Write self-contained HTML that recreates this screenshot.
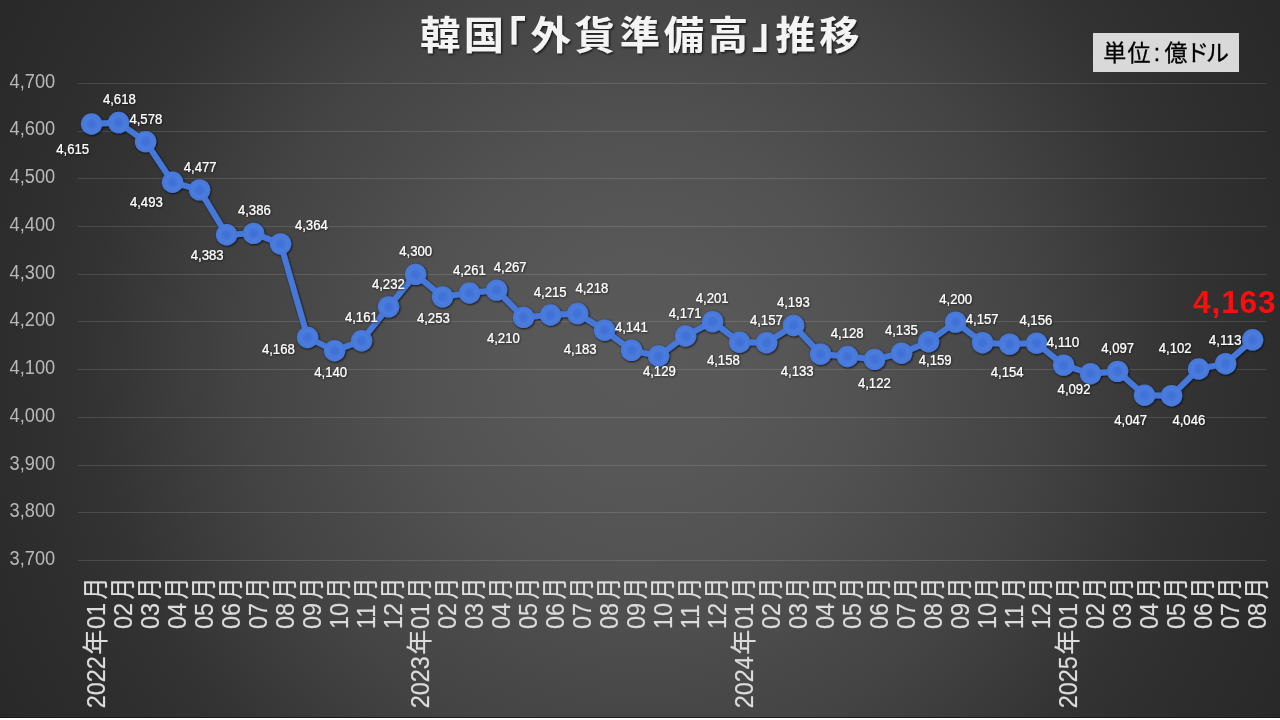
<!DOCTYPE html>
<html lang="ja"><head><meta charset="utf-8"><title>韓国「外貨準備高」推移</title>
<style>html,body{margin:0;padding:0;background:#fff;overflow:hidden}svg{display:block}text{font-family:"Liberation Sans","Noto Sans CJK JP",sans-serif}.dl{font-size:14.2px;fill:#fff;stroke:#fff;stroke-width:0.15px}.ya{font-size:20px;fill:#b8b8b8}.xa{font-size:26px;fill:#dcdcdc;stroke:#dcdcdc;stroke-width:0.2px}.ttl{font-family:"Liberation Sans","Noto Sans CJK JP",sans-serif;font-weight:700;font-size:40.4px;fill:#f4f4f4}.unit{font-family:"Liberation Sans","Noto Sans CJK JP",sans-serif;font-size:23px;fill:#000;stroke:#000;stroke-width:0.3px}.last{font-weight:700;font-size:31.5px;fill:#ff0d0d}</style></head><body>
<svg width="1280" height="720" viewBox="0 0 1280 720">
<defs>
<radialGradient id="bg" gradientUnits="userSpaceOnUse" cx="640" cy="360" r="740"><stop offset="0" stop-color="#595959"/><stop offset="0.135" stop-color="#585858"/><stop offset="0.30" stop-color="#525252"/><stop offset="0.46" stop-color="#484848"/><stop offset="0.532" stop-color="#444444"/><stop offset="0.608" stop-color="#3e3e3e"/><stop offset="0.738" stop-color="#333333"/><stop offset="0.838" stop-color="#2e2e2e"/><stop offset="1" stop-color="#282828"/></radialGradient>
<radialGradient id="mk" cx="0.5" cy="0.5" r="0.5"><stop offset="0" stop-color="#3f70d6"/><stop offset="0.35" stop-color="#4273d8"/><stop offset="0.6" stop-color="#4b7cdc"/><stop offset="1" stop-color="#4678d9"/></radialGradient>
<filter id="sh" x="-5%" y="-20%" width="110%" height="140%"><feDropShadow dx="0.7" dy="0.8" stdDeviation="1" flood-color="#00040f" flood-opacity="0.9"/></filter>
<filter id="ts" x="-20%" y="-40%" width="140%" height="180%"><feDropShadow dx="0.7" dy="0.7" stdDeviation="0.9" flood-color="#000" flood-opacity="0.65"/></filter>
<filter id="tt" x="-5%" y="-20%" width="110%" height="140%"><feDropShadow dx="1.2" dy="1.4" stdDeviation="1.1" flood-color="#000" flood-opacity="0.7"/></filter>
</defs>
<rect x="0" y="0" width="1280" height="718" fill="url(#bg)"/>
<rect x="0" y="717" width="1280" height="1" fill="#1b1b1b"/>
<rect x="0" y="718" width="1280" height="2" fill="#fff"/>
<g stroke="#fff" stroke-opacity="0.125" stroke-width="1">
<line x1="78.1" y1="83.50" x2="1266.1" y2="83.50"/>
<line x1="78.1" y1="131.50" x2="1266.1" y2="131.50"/>
<line x1="78.1" y1="178.50" x2="1266.1" y2="178.50"/>
<line x1="78.1" y1="226.50" x2="1266.1" y2="226.50"/>
<line x1="78.1" y1="274.50" x2="1266.1" y2="274.50"/>
<line x1="78.1" y1="321.50" x2="1266.1" y2="321.50"/>
<line x1="78.1" y1="369.50" x2="1266.1" y2="369.50"/>
<line x1="78.1" y1="417.50" x2="1266.1" y2="417.50"/>
<line x1="78.1" y1="465.50" x2="1266.1" y2="465.50"/>
<line x1="78.1" y1="512.50" x2="1266.1" y2="512.50"/>
<line x1="78.1" y1="560.50" x2="1266.1" y2="560.50"/>
</g>
<g class="ya" opacity="0.999">
<text x="9.6" y="87.70" textLength="45.6" lengthAdjust="spacingAndGlyphs">4,700</text>
<text x="9.6" y="135.45" textLength="45.6" lengthAdjust="spacingAndGlyphs">4,600</text>
<text x="9.6" y="183.20" textLength="45.6" lengthAdjust="spacingAndGlyphs">4,500</text>
<text x="9.6" y="230.95" textLength="45.6" lengthAdjust="spacingAndGlyphs">4,400</text>
<text x="9.6" y="278.70" textLength="45.6" lengthAdjust="spacingAndGlyphs">4,300</text>
<text x="9.6" y="326.45" textLength="45.6" lengthAdjust="spacingAndGlyphs">4,200</text>
<text x="9.6" y="374.20" textLength="45.6" lengthAdjust="spacingAndGlyphs">4,100</text>
<text x="9.6" y="421.95" textLength="45.6" lengthAdjust="spacingAndGlyphs">4,000</text>
<text x="9.6" y="469.70" textLength="45.6" lengthAdjust="spacingAndGlyphs">3,900</text>
<text x="9.6" y="517.45" textLength="45.6" lengthAdjust="spacingAndGlyphs">3,800</text>
<text x="9.6" y="565.20" textLength="45.6" lengthAdjust="spacingAndGlyphs">3,700</text>
</g>
<g class="xa" opacity="0.999">
<text transform="translate(105.40,708.2) rotate(-90) scale(0.9,1)">2022</text>
<text transform="translate(105.40,654.7) rotate(-90) scale(0.96,1)">年</text>
<text transform="translate(105.40,629) rotate(-90) scale(0.9,1)">01</text>
<text transform="translate(105.40,599.45) rotate(-90) scale(0.84,1)">月</text>
<text transform="translate(132.40,629) rotate(-90) scale(0.9,1)">02</text>
<text transform="translate(132.40,599.45) rotate(-90) scale(0.84,1)">月</text>
<text transform="translate(159.40,629) rotate(-90) scale(0.9,1)">03</text>
<text transform="translate(159.40,599.45) rotate(-90) scale(0.84,1)">月</text>
<text transform="translate(186.40,629) rotate(-90) scale(0.9,1)">04</text>
<text transform="translate(186.40,599.45) rotate(-90) scale(0.84,1)">月</text>
<text transform="translate(213.40,629) rotate(-90) scale(0.9,1)">05</text>
<text transform="translate(213.40,599.45) rotate(-90) scale(0.84,1)">月</text>
<text transform="translate(240.40,629) rotate(-90) scale(0.9,1)">06</text>
<text transform="translate(240.40,599.45) rotate(-90) scale(0.84,1)">月</text>
<text transform="translate(267.40,629) rotate(-90) scale(0.9,1)">07</text>
<text transform="translate(267.40,599.45) rotate(-90) scale(0.84,1)">月</text>
<text transform="translate(294.40,629) rotate(-90) scale(0.9,1)">08</text>
<text transform="translate(294.40,599.45) rotate(-90) scale(0.84,1)">月</text>
<text transform="translate(321.40,629) rotate(-90) scale(0.9,1)">09</text>
<text transform="translate(321.40,599.45) rotate(-90) scale(0.84,1)">月</text>
<text transform="translate(348.40,629) rotate(-90) scale(0.9,1)">10</text>
<text transform="translate(348.40,599.45) rotate(-90) scale(0.84,1)">月</text>
<text transform="translate(375.40,629) rotate(-90) scale(0.9,1)">11</text>
<text transform="translate(375.40,599.45) rotate(-90) scale(0.84,1)">月</text>
<text transform="translate(402.40,629) rotate(-90) scale(0.9,1)">12</text>
<text transform="translate(402.40,599.45) rotate(-90) scale(0.84,1)">月</text>
<text transform="translate(429.40,708.2) rotate(-90) scale(0.9,1)">2023</text>
<text transform="translate(429.40,654.7) rotate(-90) scale(0.96,1)">年</text>
<text transform="translate(429.40,629) rotate(-90) scale(0.9,1)">01</text>
<text transform="translate(429.40,599.45) rotate(-90) scale(0.84,1)">月</text>
<text transform="translate(456.40,629) rotate(-90) scale(0.9,1)">02</text>
<text transform="translate(456.40,599.45) rotate(-90) scale(0.84,1)">月</text>
<text transform="translate(483.40,629) rotate(-90) scale(0.9,1)">03</text>
<text transform="translate(483.40,599.45) rotate(-90) scale(0.84,1)">月</text>
<text transform="translate(510.40,629) rotate(-90) scale(0.9,1)">04</text>
<text transform="translate(510.40,599.45) rotate(-90) scale(0.84,1)">月</text>
<text transform="translate(537.40,629) rotate(-90) scale(0.9,1)">05</text>
<text transform="translate(537.40,599.45) rotate(-90) scale(0.84,1)">月</text>
<text transform="translate(564.40,629) rotate(-90) scale(0.9,1)">06</text>
<text transform="translate(564.40,599.45) rotate(-90) scale(0.84,1)">月</text>
<text transform="translate(591.40,629) rotate(-90) scale(0.9,1)">07</text>
<text transform="translate(591.40,599.45) rotate(-90) scale(0.84,1)">月</text>
<text transform="translate(618.40,629) rotate(-90) scale(0.9,1)">08</text>
<text transform="translate(618.40,599.45) rotate(-90) scale(0.84,1)">月</text>
<text transform="translate(645.40,629) rotate(-90) scale(0.9,1)">09</text>
<text transform="translate(645.40,599.45) rotate(-90) scale(0.84,1)">月</text>
<text transform="translate(672.40,629) rotate(-90) scale(0.9,1)">10</text>
<text transform="translate(672.40,599.45) rotate(-90) scale(0.84,1)">月</text>
<text transform="translate(699.40,629) rotate(-90) scale(0.9,1)">11</text>
<text transform="translate(699.40,599.45) rotate(-90) scale(0.84,1)">月</text>
<text transform="translate(726.40,629) rotate(-90) scale(0.9,1)">12</text>
<text transform="translate(726.40,599.45) rotate(-90) scale(0.84,1)">月</text>
<text transform="translate(753.40,708.2) rotate(-90) scale(0.9,1)">2024</text>
<text transform="translate(753.40,654.7) rotate(-90) scale(0.96,1)">年</text>
<text transform="translate(753.40,629) rotate(-90) scale(0.9,1)">01</text>
<text transform="translate(753.40,599.45) rotate(-90) scale(0.84,1)">月</text>
<text transform="translate(780.40,629) rotate(-90) scale(0.9,1)">02</text>
<text transform="translate(780.40,599.45) rotate(-90) scale(0.84,1)">月</text>
<text transform="translate(807.40,629) rotate(-90) scale(0.9,1)">03</text>
<text transform="translate(807.40,599.45) rotate(-90) scale(0.84,1)">月</text>
<text transform="translate(834.40,629) rotate(-90) scale(0.9,1)">04</text>
<text transform="translate(834.40,599.45) rotate(-90) scale(0.84,1)">月</text>
<text transform="translate(861.40,629) rotate(-90) scale(0.9,1)">05</text>
<text transform="translate(861.40,599.45) rotate(-90) scale(0.84,1)">月</text>
<text transform="translate(888.40,629) rotate(-90) scale(0.9,1)">06</text>
<text transform="translate(888.40,599.45) rotate(-90) scale(0.84,1)">月</text>
<text transform="translate(915.40,629) rotate(-90) scale(0.9,1)">07</text>
<text transform="translate(915.40,599.45) rotate(-90) scale(0.84,1)">月</text>
<text transform="translate(942.40,629) rotate(-90) scale(0.9,1)">08</text>
<text transform="translate(942.40,599.45) rotate(-90) scale(0.84,1)">月</text>
<text transform="translate(969.40,629) rotate(-90) scale(0.9,1)">09</text>
<text transform="translate(969.40,599.45) rotate(-90) scale(0.84,1)">月</text>
<text transform="translate(996.40,629) rotate(-90) scale(0.9,1)">10</text>
<text transform="translate(996.40,599.45) rotate(-90) scale(0.84,1)">月</text>
<text transform="translate(1023.40,629) rotate(-90) scale(0.9,1)">11</text>
<text transform="translate(1023.40,599.45) rotate(-90) scale(0.84,1)">月</text>
<text transform="translate(1050.40,629) rotate(-90) scale(0.9,1)">12</text>
<text transform="translate(1050.40,599.45) rotate(-90) scale(0.84,1)">月</text>
<text transform="translate(1077.40,708.2) rotate(-90) scale(0.9,1)">2025</text>
<text transform="translate(1077.40,654.7) rotate(-90) scale(0.96,1)">年</text>
<text transform="translate(1077.40,629) rotate(-90) scale(0.9,1)">01</text>
<text transform="translate(1077.40,599.45) rotate(-90) scale(0.84,1)">月</text>
<text transform="translate(1104.40,629) rotate(-90) scale(0.9,1)">02</text>
<text transform="translate(1104.40,599.45) rotate(-90) scale(0.84,1)">月</text>
<text transform="translate(1131.40,629) rotate(-90) scale(0.9,1)">03</text>
<text transform="translate(1131.40,599.45) rotate(-90) scale(0.84,1)">月</text>
<text transform="translate(1158.40,629) rotate(-90) scale(0.9,1)">04</text>
<text transform="translate(1158.40,599.45) rotate(-90) scale(0.84,1)">月</text>
<text transform="translate(1185.40,629) rotate(-90) scale(0.9,1)">05</text>
<text transform="translate(1185.40,599.45) rotate(-90) scale(0.84,1)">月</text>
<text transform="translate(1212.40,629) rotate(-90) scale(0.9,1)">06</text>
<text transform="translate(1212.40,599.45) rotate(-90) scale(0.84,1)">月</text>
<text transform="translate(1239.40,629) rotate(-90) scale(0.9,1)">07</text>
<text transform="translate(1239.40,599.45) rotate(-90) scale(0.84,1)">月</text>
<text transform="translate(1266.40,629) rotate(-90) scale(0.9,1)">08</text>
<text transform="translate(1266.40,599.45) rotate(-90) scale(0.84,1)">月</text>
</g>
<g filter="url(#sh)">
<polyline points="91.60,123.99 118.60,122.56 145.60,141.66 172.60,182.24 199.60,189.88 226.60,234.77 253.60,233.34 280.60,243.84 307.60,337.43 334.60,350.80 361.60,340.77 388.60,306.87 415.60,274.40 442.60,296.84 469.60,293.02 496.60,290.16 523.60,317.38 550.60,314.99 577.60,313.56 604.60,330.27 631.60,350.32 658.60,356.05 685.60,336.00 712.60,321.67 739.60,342.21 766.60,342.68 793.60,325.49 820.60,354.14 847.60,356.53 874.60,359.39 901.60,353.19 928.60,341.73 955.60,322.15 982.60,342.68 1009.60,344.12 1036.60,343.16 1063.60,365.12 1090.60,373.72 1117.60,371.33 1144.60,395.21 1171.60,395.68 1198.60,368.95 1225.60,363.69 1252.60,339.82" fill="none" stroke="#4578d9" stroke-width="5.9" stroke-linejoin="round" stroke-linecap="round"/>
<circle cx="91.60" cy="123.99" r="10.7" fill="url(#mk)"/>
<circle cx="118.60" cy="122.56" r="10.7" fill="url(#mk)"/>
<circle cx="145.60" cy="141.66" r="10.7" fill="url(#mk)"/>
<circle cx="172.60" cy="182.24" r="10.7" fill="url(#mk)"/>
<circle cx="199.60" cy="189.88" r="10.7" fill="url(#mk)"/>
<circle cx="226.60" cy="234.77" r="10.7" fill="url(#mk)"/>
<circle cx="253.60" cy="233.34" r="10.7" fill="url(#mk)"/>
<circle cx="280.60" cy="243.84" r="10.7" fill="url(#mk)"/>
<circle cx="307.60" cy="337.43" r="10.7" fill="url(#mk)"/>
<circle cx="334.60" cy="350.80" r="10.7" fill="url(#mk)"/>
<circle cx="361.60" cy="340.77" r="10.7" fill="url(#mk)"/>
<circle cx="388.60" cy="306.87" r="10.7" fill="url(#mk)"/>
<circle cx="415.60" cy="274.40" r="10.7" fill="url(#mk)"/>
<circle cx="442.60" cy="296.84" r="10.7" fill="url(#mk)"/>
<circle cx="469.60" cy="293.02" r="10.7" fill="url(#mk)"/>
<circle cx="496.60" cy="290.16" r="10.7" fill="url(#mk)"/>
<circle cx="523.60" cy="317.38" r="10.7" fill="url(#mk)"/>
<circle cx="550.60" cy="314.99" r="10.7" fill="url(#mk)"/>
<circle cx="577.60" cy="313.56" r="10.7" fill="url(#mk)"/>
<circle cx="604.60" cy="330.27" r="10.7" fill="url(#mk)"/>
<circle cx="631.60" cy="350.32" r="10.7" fill="url(#mk)"/>
<circle cx="658.60" cy="356.05" r="10.7" fill="url(#mk)"/>
<circle cx="685.60" cy="336.00" r="10.7" fill="url(#mk)"/>
<circle cx="712.60" cy="321.67" r="10.7" fill="url(#mk)"/>
<circle cx="739.60" cy="342.21" r="10.7" fill="url(#mk)"/>
<circle cx="766.60" cy="342.68" r="10.7" fill="url(#mk)"/>
<circle cx="793.60" cy="325.49" r="10.7" fill="url(#mk)"/>
<circle cx="820.60" cy="354.14" r="10.7" fill="url(#mk)"/>
<circle cx="847.60" cy="356.53" r="10.7" fill="url(#mk)"/>
<circle cx="874.60" cy="359.39" r="10.7" fill="url(#mk)"/>
<circle cx="901.60" cy="353.19" r="10.7" fill="url(#mk)"/>
<circle cx="928.60" cy="341.73" r="10.7" fill="url(#mk)"/>
<circle cx="955.60" cy="322.15" r="10.7" fill="url(#mk)"/>
<circle cx="982.60" cy="342.68" r="10.7" fill="url(#mk)"/>
<circle cx="1009.60" cy="344.12" r="10.7" fill="url(#mk)"/>
<circle cx="1036.60" cy="343.16" r="10.7" fill="url(#mk)"/>
<circle cx="1063.60" cy="365.12" r="10.7" fill="url(#mk)"/>
<circle cx="1090.60" cy="373.72" r="10.7" fill="url(#mk)"/>
<circle cx="1117.60" cy="371.33" r="10.7" fill="url(#mk)"/>
<circle cx="1144.60" cy="395.21" r="10.7" fill="url(#mk)"/>
<circle cx="1171.60" cy="395.68" r="10.7" fill="url(#mk)"/>
<circle cx="1198.60" cy="368.95" r="10.7" fill="url(#mk)"/>
<circle cx="1225.60" cy="363.69" r="10.7" fill="url(#mk)"/>
<circle cx="1252.60" cy="339.82" r="10.7" fill="url(#mk)"/>
</g>
<g class="dl" filter="url(#ts)">
<text x="56.2" y="154.3" textLength="32.9" lengthAdjust="spacingAndGlyphs">4,615</text>
<text x="102.9" y="104.0" textLength="32.9" lengthAdjust="spacingAndGlyphs">4,618</text>
<text x="129.4" y="124.0" textLength="32.9" lengthAdjust="spacingAndGlyphs">4,578</text>
<text x="129.9" y="207.0" textLength="32.9" lengthAdjust="spacingAndGlyphs">4,493</text>
<text x="183.7" y="172.0" textLength="32.9" lengthAdjust="spacingAndGlyphs">4,477</text>
<text x="190.7" y="260.0" textLength="32.9" lengthAdjust="spacingAndGlyphs">4,383</text>
<text x="237.9" y="215.0" textLength="32.9" lengthAdjust="spacingAndGlyphs">4,386</text>
<text x="294.9" y="230.0" textLength="32.9" lengthAdjust="spacingAndGlyphs">4,364</text>
<text x="261.9" y="353.8" textLength="32.9" lengthAdjust="spacingAndGlyphs">4,168</text>
<text x="314.2" y="377.0" textLength="32.9" lengthAdjust="spacingAndGlyphs">4,140</text>
<text x="344.9" y="322.0" textLength="32.9" lengthAdjust="spacingAndGlyphs">4,161</text>
<text x="371.9" y="289.3" textLength="32.9" lengthAdjust="spacingAndGlyphs">4,232</text>
<text x="399.2" y="256.3" textLength="32.9" lengthAdjust="spacingAndGlyphs">4,300</text>
<text x="416.9" y="323.0" textLength="32.9" lengthAdjust="spacingAndGlyphs">4,253</text>
<text x="452.9" y="275.0" textLength="32.9" lengthAdjust="spacingAndGlyphs">4,261</text>
<text x="493.7" y="272.0" textLength="32.9" lengthAdjust="spacingAndGlyphs">4,267</text>
<text x="486.9" y="343.0" textLength="32.9" lengthAdjust="spacingAndGlyphs">4,210</text>
<text x="533.7" y="297.0" textLength="32.9" lengthAdjust="spacingAndGlyphs">4,215</text>
<text x="575.4" y="293.3" textLength="32.9" lengthAdjust="spacingAndGlyphs">4,218</text>
<text x="563.7" y="353.8" textLength="32.9" lengthAdjust="spacingAndGlyphs">4,183</text>
<text x="614.9" y="332.0" textLength="32.9" lengthAdjust="spacingAndGlyphs">4,141</text>
<text x="642.9" y="376.3" textLength="32.9" lengthAdjust="spacingAndGlyphs">4,129</text>
<text x="668.7" y="318.3" textLength="32.9" lengthAdjust="spacingAndGlyphs">4,171</text>
<text x="695.7" y="303.3" textLength="32.9" lengthAdjust="spacingAndGlyphs">4,201</text>
<text x="706.9" y="365.0" textLength="32.9" lengthAdjust="spacingAndGlyphs">4,158</text>
<text x="749.9" y="324.5" textLength="32.9" lengthAdjust="spacingAndGlyphs">4,157</text>
<text x="776.9" y="307.0" textLength="32.9" lengthAdjust="spacingAndGlyphs">4,193</text>
<text x="780.7" y="376.3" textLength="32.9" lengthAdjust="spacingAndGlyphs">4,133</text>
<text x="830.7" y="337.5" textLength="32.9" lengthAdjust="spacingAndGlyphs">4,128</text>
<text x="857.9" y="388.0" textLength="32.9" lengthAdjust="spacingAndGlyphs">4,122</text>
<text x="884.9" y="335.0" textLength="32.9" lengthAdjust="spacingAndGlyphs">4,135</text>
<text x="918.7" y="365.0" textLength="32.9" lengthAdjust="spacingAndGlyphs">4,159</text>
<text x="939.2" y="304.0" textLength="32.9" lengthAdjust="spacingAndGlyphs">4,200</text>
<text x="965.7" y="324.0" textLength="32.9" lengthAdjust="spacingAndGlyphs">4,157</text>
<text x="990.7" y="377.0" textLength="32.9" lengthAdjust="spacingAndGlyphs">4,154</text>
<text x="1019.4" y="325.0" textLength="32.9" lengthAdjust="spacingAndGlyphs">4,156</text>
<text x="1046.5" y="347.0" textLength="32.9" lengthAdjust="spacingAndGlyphs">4,110</text>
<text x="1057.6" y="394.3" textLength="32.9" lengthAdjust="spacingAndGlyphs">4,092</text>
<text x="1101.2" y="353.3" textLength="32.9" lengthAdjust="spacingAndGlyphs">4,097</text>
<text x="1114.2" y="425.0" textLength="32.9" lengthAdjust="spacingAndGlyphs">4,047</text>
<text x="1172.4" y="425.0" textLength="32.9" lengthAdjust="spacingAndGlyphs">4,046</text>
<text x="1158.7" y="353.3" textLength="32.9" lengthAdjust="spacingAndGlyphs">4,102</text>
<text x="1208.7" y="345.0" textLength="32.9" lengthAdjust="spacingAndGlyphs">4,113</text>
</g>
<text class="last" opacity="0.999" x="1193" y="313" textLength="82.6" lengthAdjust="spacing">4,163</text>
<g class="ttl" filter="url(#tt)">
<g transform="translate(0,1.04) scale(1,0.97)">
<text x="440.3" y="49.6" text-anchor="middle">韓</text>
<text x="484.0" y="49.6" text-anchor="middle">国</text>
<text x="550.7" y="49.6" text-anchor="middle">外</text>
<text x="594.7" y="49.6" text-anchor="middle">貨</text>
<text x="640.0" y="49.6" text-anchor="middle">準</text>
<text x="684.0" y="49.6" text-anchor="middle">備</text>
<text x="728.0" y="49.6" text-anchor="middle">高</text>
<text x="795.5" y="49.6" text-anchor="middle">推</text>
<text x="839.5" y="49.6" text-anchor="middle">移</text>
</g>
<text transform="translate(506,54) scale(1,1.1)" text-anchor="middle">「</text>
<text transform="translate(772,48.1) scale(1,1.06)" text-anchor="middle">」</text>
</g>
<rect x="1093" y="33" width="146" height="39" fill="#d9d9d9"/>
<g class="unit" opacity="0.999">
<text x="1114.8" y="61" text-anchor="middle">単</text>
<text x="1139.0" y="61" text-anchor="middle">位</text>
<text x="1157.0" y="61" text-anchor="middle">:</text>
<text x="1176.0" y="61" text-anchor="middle">億</text>
<text x="1197.6" y="61" text-anchor="middle">ド</text>
<text x="1217.5" y="61" text-anchor="middle">ル</text>
</g>
</svg></body></html>
